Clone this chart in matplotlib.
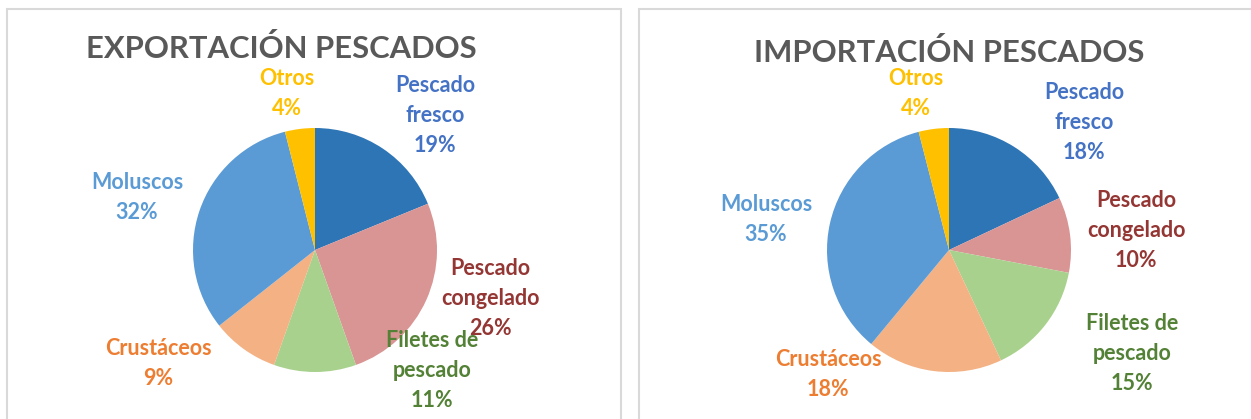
import matplotlib
matplotlib.use("Agg")
import matplotlib.pyplot as plt
from matplotlib.patches import Rectangle

# datos de los dos graficos
categorias = ["Pescado\nfresco", "Pescado\ncongelado", "Filetes de\npescado",
              "Crustáceos", "Moluscos", "Otros"]
exportacion = [19, 26, 11, 9, 32, 4]
importacion = [18, 10, 15, 18, 35, 4]
titulos = ["EXPORTACIÓN PESCADOS", "IMPORTACIÓN PESCADOS"]

colores = ["#2E75B6", "#D99594", "#A9D18E", "#F4B183", "#5B9BD5", "#FFC000"]
colores_texto = ["#4472C4", "#943634", "#538135", "#ED7D31", "#5B9BD5", "#FFC000"]

W, H = 1251, 419
plt.rcParams["font.family"] = ["Lato", "DejaVu Sans"]

fig = plt.figure(figsize=(W / 100, H / 100), dpi=100)

# marcos de cada panel (en pixeles)
for x0, x1 in [(7, 621), (639, 1260)]:
    fig.patches.append(Rectangle((x0 / W, -0.1), (x1 - x0) / W, (H - 9) / H + 0.1,
                                 transform=fig.transFigure, fill=False,
                                 edgecolor="#D9D9D9", linewidth=1.5))

# posiciones de etiquetas, en pixeles (centro de la primera linea)
pos_etiquetas = [
    [(435, 85), (490, 268), (432, 340), (158, 348), (137, 182), (287, 78)],
    [(1084, 92), (1136, 200), (1132, 323), (828, 359), (766, 204), (916, 78)],
]
centros = [(315, 250), (949, 250)]
pos_titulos = [(281, 48), (949, 52)]
radio = 122

def px(x, y):
    return x / W, 1 - y / H

for valores, titulo, (cx, cy), etiquetas, (tx, ty) in zip(
        [exportacion, importacion], titulos, centros, pos_etiquetas, pos_titulos):
    ax = fig.add_axes([(cx - radio) / W, (H - cy - radio) / H,
                       2 * radio / W, 2 * radio / H])
    ax.pie(valores, colors=colores, startangle=90, counterclock=False,
           wedgeprops=dict(linewidth=0), radius=1)
    ax.set_xlim(-1, 1)
    ax.set_ylim(-1, 1)
    ax.axis("off")

    fig.text(*px(tx, ty), titulo, ha="center", va="center", fontsize=22.3,
             fontweight="bold", color="#595959")

    for cat, v, col, (lx, ly) in zip(categorias, valores, colores_texto, etiquetas):
        texto = f"{cat}\n{v}%"
        fig.text(*px(lx, ly - 10), texto, ha="center", va="top", fontsize=15.5,
                 fontweight="bold", color=col, linespacing=1.52)

fig.savefig("out.png", dpi=100)
